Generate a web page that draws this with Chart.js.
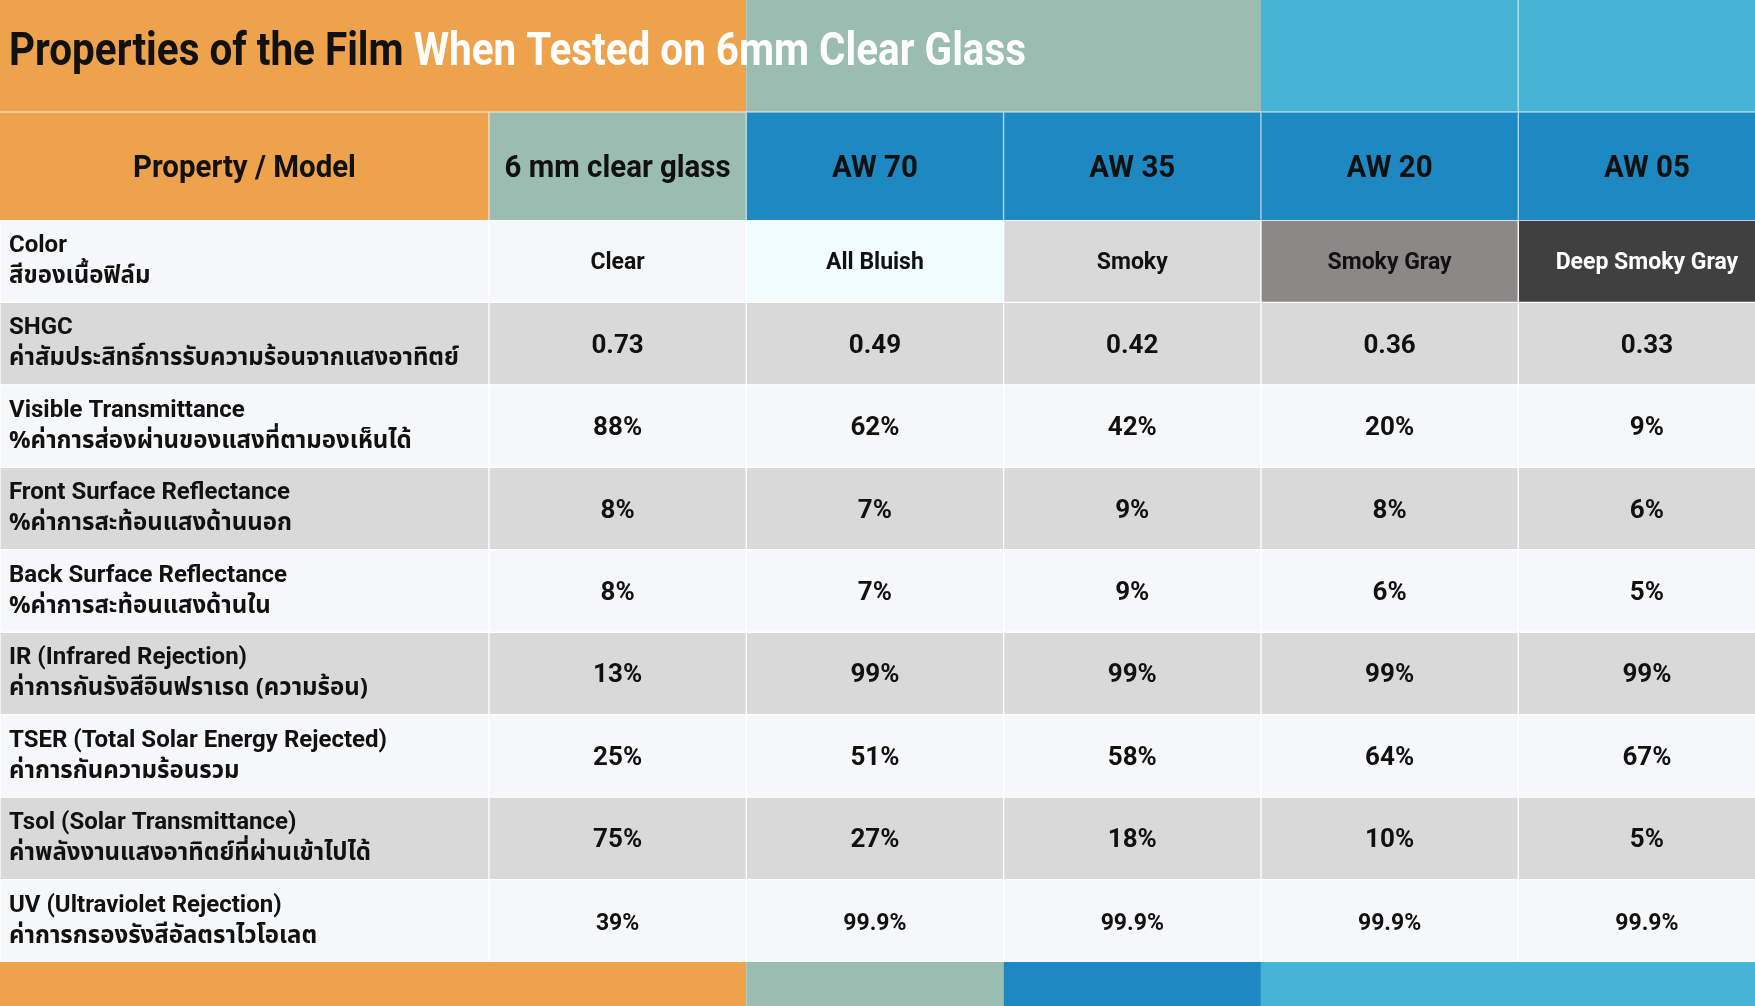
<!DOCTYPE html>
<html>
<head>
<meta charset="utf-8">
<script src="https://cdn.jsdelivr.net/npm/chart.js@4.4.1/dist/chart.umd.min.js"></script>
<style>
  html, body { margin: 0; padding: 0; background: #ffffff; overflow: hidden; }
  #table { display: block; }
</style>
</head>
<body>
<canvas id="table" width="1755" height="1006"></canvas>
<script>
// table content
var titleDark = "Properties of the Film ";
var titleLight = "When Tested on 6mm Clear Glass";
var headerLabel = "Property / Model";
var models = ["6 mm clear glass", "AW 70", "AW 35", "AW 20", "AW 05"];

var propertyEn = [
    "Color",
    "SHGC",
    "Visible Transmittance",
    "Front Surface Reflectance",
    "Back Surface Reflectance",
    "IR (Infrared Rejection)",
    "TSER (Total Solar Energy Rejected)",
    "Tsol (Solar Transmittance)",
    "UV (Ultraviolet Rejection)"
];
var propertyTh = [
    "สีของเนื้อฟิล์ม",
    "ค่าสัมประสิทธิ์การรับความร้อนจากแสงอาทิตย์",
    "%ค่าการส่องผ่านของแสงที่ตามองเห็นได้",
    "%ค่าการสะท้อนแสงด้านนอก",
    "%ค่าการสะท้อนแสงด้านใน",
    "ค่าการกันรังสีอินฟราเรด (ความร้อน)",
    "ค่าการกันความร้อนรวม",
    "ค่าพลังงานแสงอาทิตย์ที่ผ่านเข้าไปได้",
    "ค่าการกรองรังสีอัลตราไวโอเลต"
];

var clearGlass = ["Clear", "0.73", "88%", "8%", "8%", "13%", "25%", "75%", "39%"];
var aw70 = ["All Bluish", "0.49", "62%", "7%", "7%", "99%", "51%", "27%", "99.9%"];
var aw35 = ["Smoky", "0.42", "42%", "9%", "9%", "99%", "58%", "18%", "99.9%"];
var aw20 = ["Smoky Gray", "0.36", "20%", "8%", "6%", "99%", "64%", "10%", "99.9%"];
var aw05 = ["Deep Smoky Gray", "0.33", "9%", "6%", "5%", "99%", "67%", "5%", "99.9%"];

var columnValues = [propertyEn, clearGlass, aw70, aw35, aw20, aw05];

// layout: column edges in column units (first column is wider, last one runs off the page)
var colEdges = [0, 1.9, 2.9, 3.9, 4.9, 5.9, 6.9];
var xMax = 6.82;

var ORANGE = "#eda24b";
var SAGE = "#9bbdb1";
var BLUE = "#1d88c2";
var SKY = "#48b4d5";
var LIGHT = "#f6f7f9";
var GRAY = "#d9d9d9";
var colorRowFill = [LIGHT, LIGHT, "#f0fcfe", GRAY, "#8c8888", "#404040"];

var THAI = "'Noto Sans Thai', 'Noto Sans Thai UI', Loma, Garuda, 'Tlwg Typo', Kinnari, sans-serif";
var FONT = "Roboto, 'Noto Sans', " + THAI;

function cellFill(col, row) {
    if (row === 0) return colorRowFill[col];
    return row % 2 === 1 ? GRAY : LIGHT;
}

function condensedText(ctx, text, x, y, sx, align) {
    ctx.save();
    ctx.translate(x, y);
    ctx.scale(sx, 1);
    ctx.textAlign = align;
    ctx.fillText(text, 0, 0);
    ctx.restore();
}

var datasets = columnValues.map(function (vals, c) {
    return {
        label: c === 0 ? headerLabel : models[c - 1],
        data: propertyEn.map(function () { return [colEdges[c], colEdges[c + 1]]; }),
        backgroundColor: function (ctx) { return cellFill(ctx.datasetIndex, ctx.dataIndex); },
        borderColor: "rgba(255,255,255,0.85)",
        borderWidth: 1,
        borderSkipped: false,
        grouped: false,
        barPercentage: 1,
        categoryPercentage: 1
    };
});

var HEADER_H = 108;

var framePlugin = {
    id: "frame",
    beforeDatasetsDraw: function (chart) {
        var ctx = chart.ctx;
        var xs = chart.scales.x;
        var area = chart.chartArea;
        var px = function (v) { return xs.getPixelForValue(v); };
        var W = chart.width, H = chart.height;
        var headTop = area.top - HEADER_H;

        // title band
        ctx.fillStyle = ORANGE; ctx.fillRect(0, 0, px(colEdges[2]), headTop);
        ctx.fillStyle = SAGE; ctx.fillRect(px(colEdges[2]), 0, px(colEdges[4]) - px(colEdges[2]), headTop);
        ctx.fillStyle = SKY; ctx.fillRect(px(colEdges[4]), 0, W - px(colEdges[4]), headTop);

        // header row
        var headFill = [ORANGE, SAGE, BLUE, BLUE, BLUE, BLUE];
        for (var c = 0; c < 6; c++) {
            ctx.fillStyle = headFill[c];
            ctx.fillRect(px(colEdges[c]), headTop, px(colEdges[c + 1]) - px(colEdges[c]), HEADER_H);
        }

        // footer band
        var fb = area.bottom;
        ctx.fillStyle = ORANGE; ctx.fillRect(0, fb, px(colEdges[2]), H - fb);
        ctx.fillStyle = SAGE; ctx.fillRect(px(colEdges[2]), fb, px(colEdges[3]) - px(colEdges[2]), H - fb);
        ctx.fillStyle = BLUE; ctx.fillRect(px(colEdges[3]), fb, px(colEdges[4]) - px(colEdges[3]), H - fb);
        ctx.fillStyle = SKY; ctx.fillRect(px(colEdges[4]), fb, W - px(colEdges[4]), H - fb);

        // thin light separators
        ctx.strokeStyle = "rgba(255,255,255,0.55)";
        ctx.lineWidth = 1.5;
        ctx.beginPath();
        ctx.moveTo(0, headTop); ctx.lineTo(W, headTop);
        for (var k = 1; k < 6; k++) {
            ctx.moveTo(px(colEdges[k]), headTop); ctx.lineTo(px(colEdges[k]), area.top);
        }
        ctx.moveTo(px(colEdges[5]), 0); ctx.lineTo(px(colEdges[5]), headTop);
        ctx.stroke();

        // title text
        ctx.textBaseline = "alphabetic";
        ctx.font = "bold 47px Roboto";
        var full = ctx.measureText(titleDark + titleLight).width;
        var sx = 1017 / full;
        var wDark = ctx.measureText(titleDark).width * sx;
        ctx.fillStyle = "#111111";
        condensedText(ctx, titleDark, 9, 65, sx, "left");
        ctx.fillStyle = "#ffffff";
        condensedText(ctx, titleLight, 9 + wDark, 65, sx, "left");

        // header text
        ctx.font = "bold 32px Roboto";
        ctx.fillStyle = "#111111";
        var heads = [headerLabel].concat(models);
        for (var h = 0; h < 6; h++) {
            var cx = (px(colEdges[h]) + px(colEdges[h + 1])) / 2;
            condensedText(ctx, heads[h], cx, headTop + 65, 0.92, "center");
        }
    }
};

var textPlugin = {
    id: "cellText",
    afterDatasetsDraw: function (chart) {
        var ctx = chart.ctx;
        var xs = chart.scales.x;
        ctx.save();
        ctx.textBaseline = "alphabetic";
        chart.data.datasets.forEach(function (ds, c) {
            var meta = chart.getDatasetMeta(c);
            meta.data.forEach(function (el, r) {
                var p = el.getProps(["y", "height"], true);
                var left = xs.getPixelForValue(colEdges[c]);
                var right = xs.getPixelForValue(colEdges[c + 1]);
                var top = p.y - p.height / 2;
                if (c === 0) {
                    ctx.textAlign = "left";
                    ctx.fillStyle = "#111111";
                    ctx.font = "bold 24px " + FONT;
                    ctx.fillText(propertyEn[r], left + 9, top + 32);
                    ctx.font = "bold 24px " + THAI;
                    ctx.fillText(propertyTh[r], left + 9, top + 63);
                    return;
                }
                var cx = (left + right) / 2;
                ctx.textAlign = "center";
                ctx.fillStyle = (r === 0 && c === 5) ? "#ffffff" : "#111111";
                if (r === 0) ctx.font = "bold 23px " + FONT;
                else if (r === propertyEn.length - 1) ctx.font = "bold 23px " + FONT;
                else ctx.font = "bold 26px " + FONT;
                ctx.fillText(columnValues[c][r], cx, p.y + (r === 0 ? 8 : 9));
            });
        });
        ctx.restore();
    }
};

new Chart(document.getElementById("table").getContext("2d"), {
    type: "bar",
    data: { labels: propertyEn, datasets: datasets },
    options: {
        indexAxis: "y",
        responsive: false,
        devicePixelRatio: 1,
        animation: false,
        layout: { padding: { top: 220, bottom: 44, left: 0, right: 0 } },
        scales: {
            x: { type: "linear", min: 0, max: xMax, display: false },
            y: { type: "category", display: false, offset: true }
        },
        plugins: {
            legend: { display: false },
            tooltip: { enabled: false },
            title: { display: false }
        }
    },
    plugins: [framePlugin, textPlugin]
});
</script>
</body>
</html>
